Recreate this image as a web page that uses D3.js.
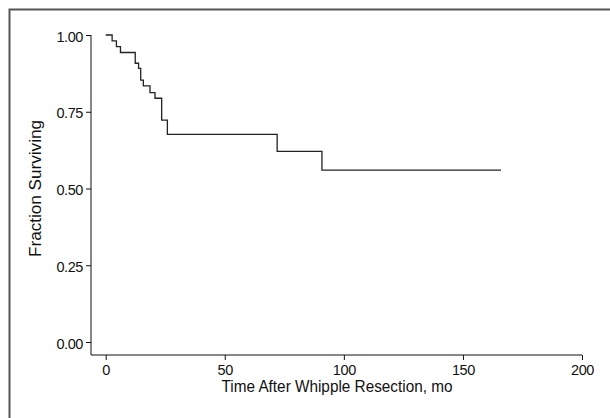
<!DOCTYPE html>
<html>
<head>
<meta charset="utf-8">
<script src="https://cdn.jsdelivr.net/npm/d3@7/dist/d3.min.js"></script>
<style>
  html, body { margin: 0; padding: 0; background: #fff; }
  svg { display: block; }
  text { font-family: "Liberation Sans", Arial, sans-serif; fill: #111; }
</style>
</head>
<body>
<svg id="chart" width="610" height="418"></svg>
<script>
// Kaplan-Meier survival estimate after Whipple resection
const eventTimes = [0, 2.7, 4.5, 6.2, 12.4, 13.8, 14.7, 15.8, 18.6, 20.7, 23.5, 25.9, 72, 90.8];
const survival   = [1.00, 0.981, 0.962, 0.943, 0.908, 0.891, 0.853, 0.834, 0.812, 0.794, 0.723, 0.676, 0.621, 0.560];
const lastFollowUp = 166;

const xTicks = [0, 50, 100, 150, 200];
const yTicks = [0, 0.25, 0.5, 0.75, 1.0];
const xTitle = "Time After Whipple Resection, mo";
const yTitle = "Fraction Surviving";

const svg = d3.select("#chart");

// outer frame (top and left edges)
svg.append("path")
  .attr("d", "M9.5,418 L9.5,9.5 L610,9.5")
  .attr("fill", "none")
  .attr("stroke", "#555")
  .attr("stroke-width", 2);

const x = d3.scaleLinear().domain([0, 200]).range([105.7, 582]);
const y = d3.scaleLinear().domain([0, 1]).range([342, 35]);

const axisX = 91, axisY = 355;

// y axis
const gy = svg.append("g").attr("transform", `translate(${axisX},0)`)
  .call(d3.axisLeft(y).tickValues(yTicks).tickFormat(d3.format(".2f")).tickSizeOuter(0).tickSize(5).tickPadding(3));
gy.select(".domain").attr("d", `M0,${y(1)}V${axisY}`);
gy.selectAll(".tick text").attr("dy", "0.42em");

// x axis
const gx = svg.append("g").attr("transform", `translate(0,${axisY})`)
  .call(d3.axisBottom(x).tickValues(xTicks).tickFormat(d3.format("d")).tickSizeOuter(0).tickSize(5).tickPadding(5));
gx.select(".domain").attr("d", `M${axisX},0H${x(200)}`);

svg.selectAll(".tick text")
  .style("font-size", "14.5px")
  .style("font-family", '"Liberation Sans", Arial, sans-serif')
  .attr("letter-spacing", "-0.4");
svg.selectAll(".domain, .tick line").attr("stroke", "#111");

// axis titles, set in a narrow width
svg.append("text")
  .attr("x", 337)
  .attr("y", 392)
  .attr("text-anchor", "middle")
  .attr("textLength", 231)
  .attr("lengthAdjust", "spacingAndGlyphs")
  .style("font-size", "16.5px")
  .text(xTitle);

svg.append("text")
  .attr("transform", `translate(41,${y(0.5)}) rotate(-90)`)
  .attr("text-anchor", "middle")
  .attr("textLength", 137)
  .attr("lengthAdjust", "spacingAndGlyphs")
  .style("font-size", "16.5px")
  .text(yTitle);

// step curve
const pts = eventTimes.map((t, i) => [t, survival[i]]);
pts.push([lastFollowUp, survival[survival.length - 1]]);
const line = d3.line().x(d => x(d[0])).y(d => y(d[1])).curve(d3.curveStepAfter);
svg.append("path")
  .datum(pts)
  .attr("d", line)
  .attr("fill", "none")
  .attr("stroke", "#222")
  .attr("stroke-width", 1.3);
</script>
</body>
</html>
